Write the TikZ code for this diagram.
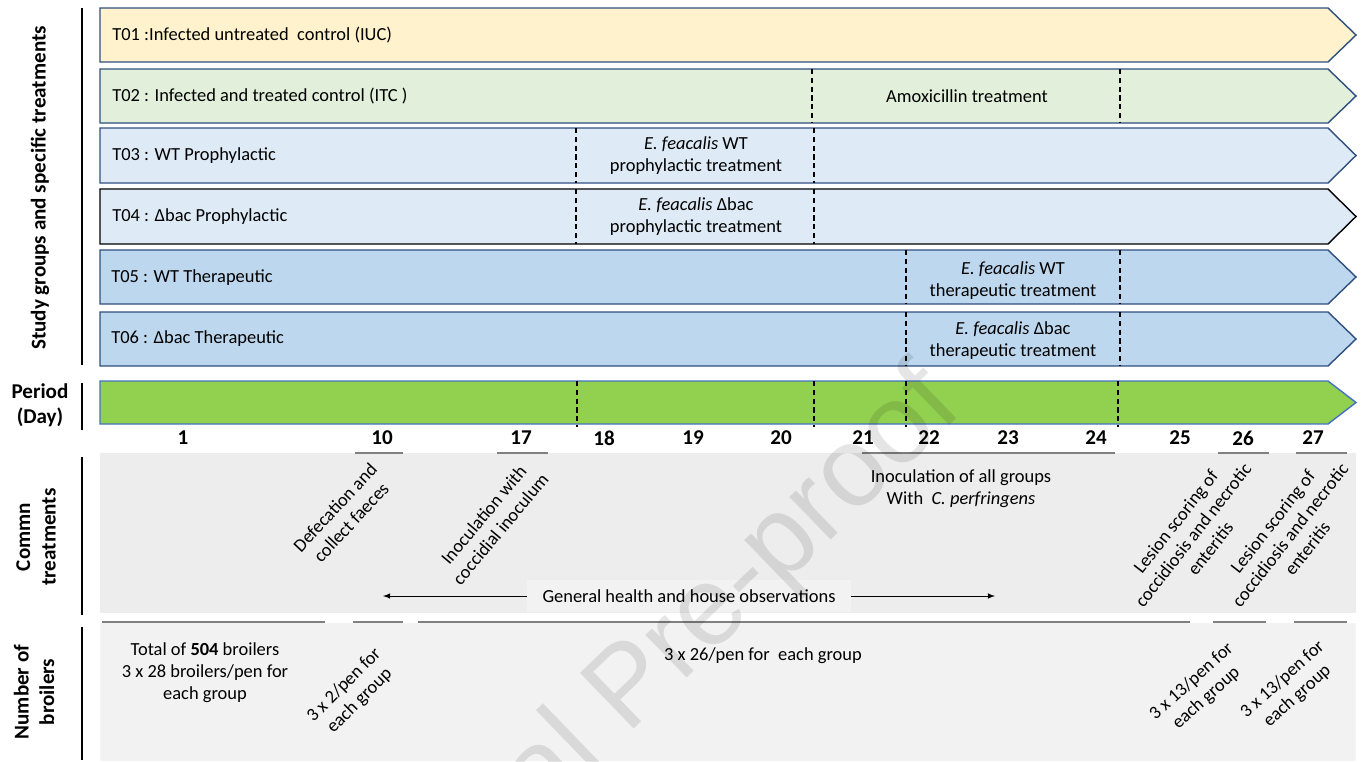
\documentclass[tikz,border=0pt]{standalone}
\usepackage{fontspec}
\setmainfont{Carlito}
\newfontfamily\wmfont{Liberation Sans}
\usetikzlibrary{arrows}
\definecolor{tone}{HTML}{FFF2CC}
\definecolor{ttwo}{HTML}{E2EFDA}
\definecolor{tthree}{HTML}{DEEBF7}
\definecolor{tfive}{HTML}{BDD7EE}
\definecolor{per}{HTML}{92D050}
\definecolor{rim}{HTML}{2F4F7F}
\definecolor{perrim}{HTML}{4472C4}
\definecolor{panA}{HTML}{EDEDED}
\definecolor{panB}{HTML}{F2F2F2}
\tikzset{tx/.style={font=\fontsize{10.5}{12.5}\selectfont, inner sep=0pt, align=center}}
\tikzset{hd/.style={font=\fontsize{12}{14.5}\selectfont\bfseries, inner sep=0pt, align=center}}
\tikzset{day/.style={font=\fontsize{12}{14}\selectfont\bfseries, inner sep=0pt}}
\tikzset{sep/.style={densely dashed, line width=0.6pt}}
\tikzset{ul/.style={draw=gray, line width=0.6pt}}
\tikzset{side/.style={line width=1.2pt}}

\begin{document}
\begin{tikzpicture}[x=0.02cm,y=-0.02cm]
\useasboundingbox (0,0) rectangle (1364,761);
% study groups
\foreach \t/\b/\c/\r in {8/62/tone/rim, 69/123/ttwo/rim, 128/183/tthree/rim, 189/244/tthree/black, 250/304/tfive/rim, 312/366/tfive/rim}
  \draw[fill=\c, draw=\r, line width=0.8pt] (100,\t) -- (1328,\t) -- (1356,{(\t+\b)/2}) -- (1328,\b) -- (100,\b) -- cycle;
\node[tx, anchor=west] (t01) at (112,35) {T01 :Infected untreated \ control (IUC)};
\node[tx, anchor=west] (t02) at (112,96) {T02 : Infected and treated control (ITC )};
\node[tx, anchor=west] (t03) at (112,156) {T03 : WT Prophylactic};
\node[tx, anchor=west] (t04) at (112,217) {T04 : Δbac Prophylactic};
\node[tx, anchor=west] (t05) at (111,278) {T05 : WT Therapeutic};
\node[tx, anchor=west] (t06) at (111,339) {T06 : Δbac Therapeutic};
\node[tx] (amox) at (967,96) {Amoxicillin treatment};
\node[tx] (prowt) at (696,156) {\textit{E. feacalis} WT\\prophylactic treatment};
\node[tx] (prodb) at (696,217) {\textit{E. feacalis} Δbac\\prophylactic treatment};
\node[tx] (therwt) at (1013,281) {\textit{E. feacalis} WT\\therapeutic treatment};
\node[tx] (therdb) at (1013,341) {\textit{E. feacalis} Δbac\\therapeutic treatment};
\draw[sep] (812,69) -- (812,123) (1120,69) -- (1120,123);
\draw[sep] (576,128) -- (576,183) (814,128) -- (814,183);
\draw[sep] (576,189) -- (576,244) (814,189) -- (814,244);
\draw[sep] (906,250) -- (906,304) (1120,250) -- (1120,304);
\draw[sep] (906,312) -- (906,366) (1120,312) -- (1120,366);
% period
\draw[fill=per, draw=perrim, line width=0.8pt] (100,381) -- (1328,381) -- (1356,402.5) -- (1328,424) -- (100,424) -- cycle;
\draw[sep] (577,381) -- (577,427) (814,381) -- (814,427) (906,381) -- (906,427) (1118,381) -- (1118,427);
\foreach \d/\x in {1/183, 10/382, 17/521, 18/604, 19/693, 20/781, 21/863, 22/929, 23/1008, 24/1096, 25/1180, 26/1243, 27/1313}
  \node[day] (d\d) at (\x,438) {\d};
% panels
\fill[panA] (100,453) rectangle (1356,613);
\fill[panB] (100,623) rectangle (1356,761);
\draw[ul] (355,453) -- (403,453) (497,453) -- (548,453) (862,453) -- (1115,453) (1218,453) -- (1269,453) (1296,453) -- (1347,453);
\draw[ul] (102,622) -- (325,622) (353,622) -- (403,622) (418,622) -- (1190,622) (1213,622) -- (1266,622) (1294,622) -- (1347,622);
% common treatments
\node[tx, rotate=47] (defec) at (343,515) {Defecation and\\collect faeces};
\node[tx, rotate=50] (cocc) at (492,522) {Inoculation with\\coccidial inoculum};
\node[tx] (cperf) at (961,489) {Inoculation of all groups\\With \ \textit{C. perfringens}};
\node[tx, rotate=52] (les1) at (1193,535) {Lesion scoring of\\coccidiosis and necrotic\\enteritis};
\node[tx, rotate=52] (les2) at (1290,535) {Lesion scoring of\\coccidiosis and necrotic\\enteritis};
\node[tx, fill=panB, minimum width=6.48cm, minimum height=0.64cm] (obs) at (689,596) {General health and house observations};
\coordinate (obsl) at (383,596);
\coordinate (obsr) at (995,596);
\draw[-latex] (obs) -- (obsl);
\draw[-latex] (obs) -- (obsr);
% broilers
\node[tx] (tot) at (205,673) {Total of \textbf{504} broilers\\3 x 28 broilers/pen for\\each group};
\node[tx, rotate=45] (n10) at (352,693) {3 x 2/pen for\\each group};
\node[tx] (n26) at (763,656) {3 x 26/pen for \ each group};
\node[tx, rotate=42] (n13a) at (1199,690) {3 x 13/pen for\\each group};
\node[tx, rotate=42] (n13b) at (1290,688) {3 x 13/pen for\\each group};
% side labels
\draw[side] (82,8) -- (82,365) (82,383) -- (82,430) (82,457) -- (82,615) (82,627) -- (82,760);
\node[hd, rotate=90] (study) at (40,188) {Study groups and specific treatments};
\node[hd] (period) at (40,405) {Period\\(Day)};
\node[hd, rotate=90] (commn) at (36,537) {Commn\\treatments};
\node[hd, rotate=90] (numb) at (34,692) {Number of\\broilers};
% watermark
\begin{scope}
\clip (0,0) rectangle (1364,761);
\node[font=\wmfont\fontsize{64}{64}\selectfont, text=black, text opacity=0.1, rotate=44, anchor=base east, inner sep=0pt] (wm) at (965,410) {Journal Pre-proof};
\end{scope}
\end{tikzpicture}
\end{document}
